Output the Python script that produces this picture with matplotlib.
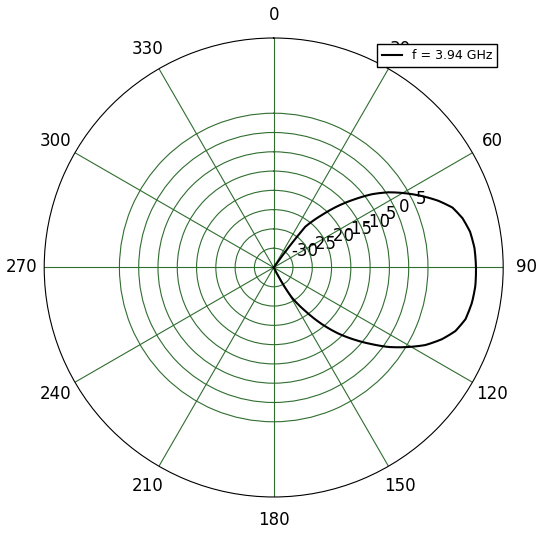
import numpy as np
import matplotlib
matplotlib.use("Agg")
import matplotlib.pyplot as plt

# pattern: angle [deg] / level [dB]
theta_deg = [35.8, 36.3, 37.8, 42.6, 46.4, 50.0, 53.3, 56.8, 60.6, 64.3,
             68.0, 71.5, 75.4, 79.7, 84.5, 90.2, 95.2, 100.1, 105.1, 109.3,
             113.1, 117.1, 120.5, 124.7, 128.0, 131.6, 135.5, 139.6, 144.0,
             148.8, 151.4, 153.0]
level_db = [-35.0, -29.9, -21.6, -16.5, -11.75, -7.4, -3.2, 0.6, 4.2, 7.7,
            11.1, 13.9, 15.6, 16.75, 17.3, 17.45, 17.5, 17.2, 16.5, 14.9,
            12.4, 9.15, 5.6, 1.2, -2.7, -6.7, -10.9, -15.7, -21.05,
            -25.85, -30.5, -35.0]
label = "f = 3.94 GHz"

r_ticks = [-30, -25, -20, -15, -10, -5, 0, 5]
theta_ticks = list(range(0, 360, 30))
r_lim = (-35, 24.5)

fig = plt.figure(figsize=(5.43, 5.36), dpi=100)
ax = fig.add_axes([0.0814, 0.0728, 0.8453, 0.8563], projection="polar")
ax.set_theta_zero_location("N")
ax.set_theta_direction(-1)

line, = ax.plot(np.radians(theta_deg), level_db, color="black", lw=1.5,
                label=label)
# draw segments as arcs in theta instead of straight chords
line.get_path()._interpolation_steps = 20

ax.set_ylim(*r_lim)
ax.set_thetagrids(theta_ticks, [str(t) for t in theta_ticks])
ax.set_rgrids(r_ticks, [str(r) for r in r_ticks], angle=67.5)
ax.grid(True, color="#306e30", lw=0.8, ls="-")
ax.tick_params(axis="x", labelsize=12, length=0, pad=9.5)
ax.tick_params(axis="y", labelsize=12, length=0)
for t in ax.get_yticklabels():
    t.set_ha("left"); t.set_va("bottom")
ax.spines["polar"].set_linewidth(0.8)

leg = ax.legend(loc="upper right", fontsize=9, fancybox=False, framealpha=1,
                borderaxespad=0.5, handlelength=1.6)
leg.get_frame().set_edgecolor("black")

fig.savefig("out.png", dpi=100)
